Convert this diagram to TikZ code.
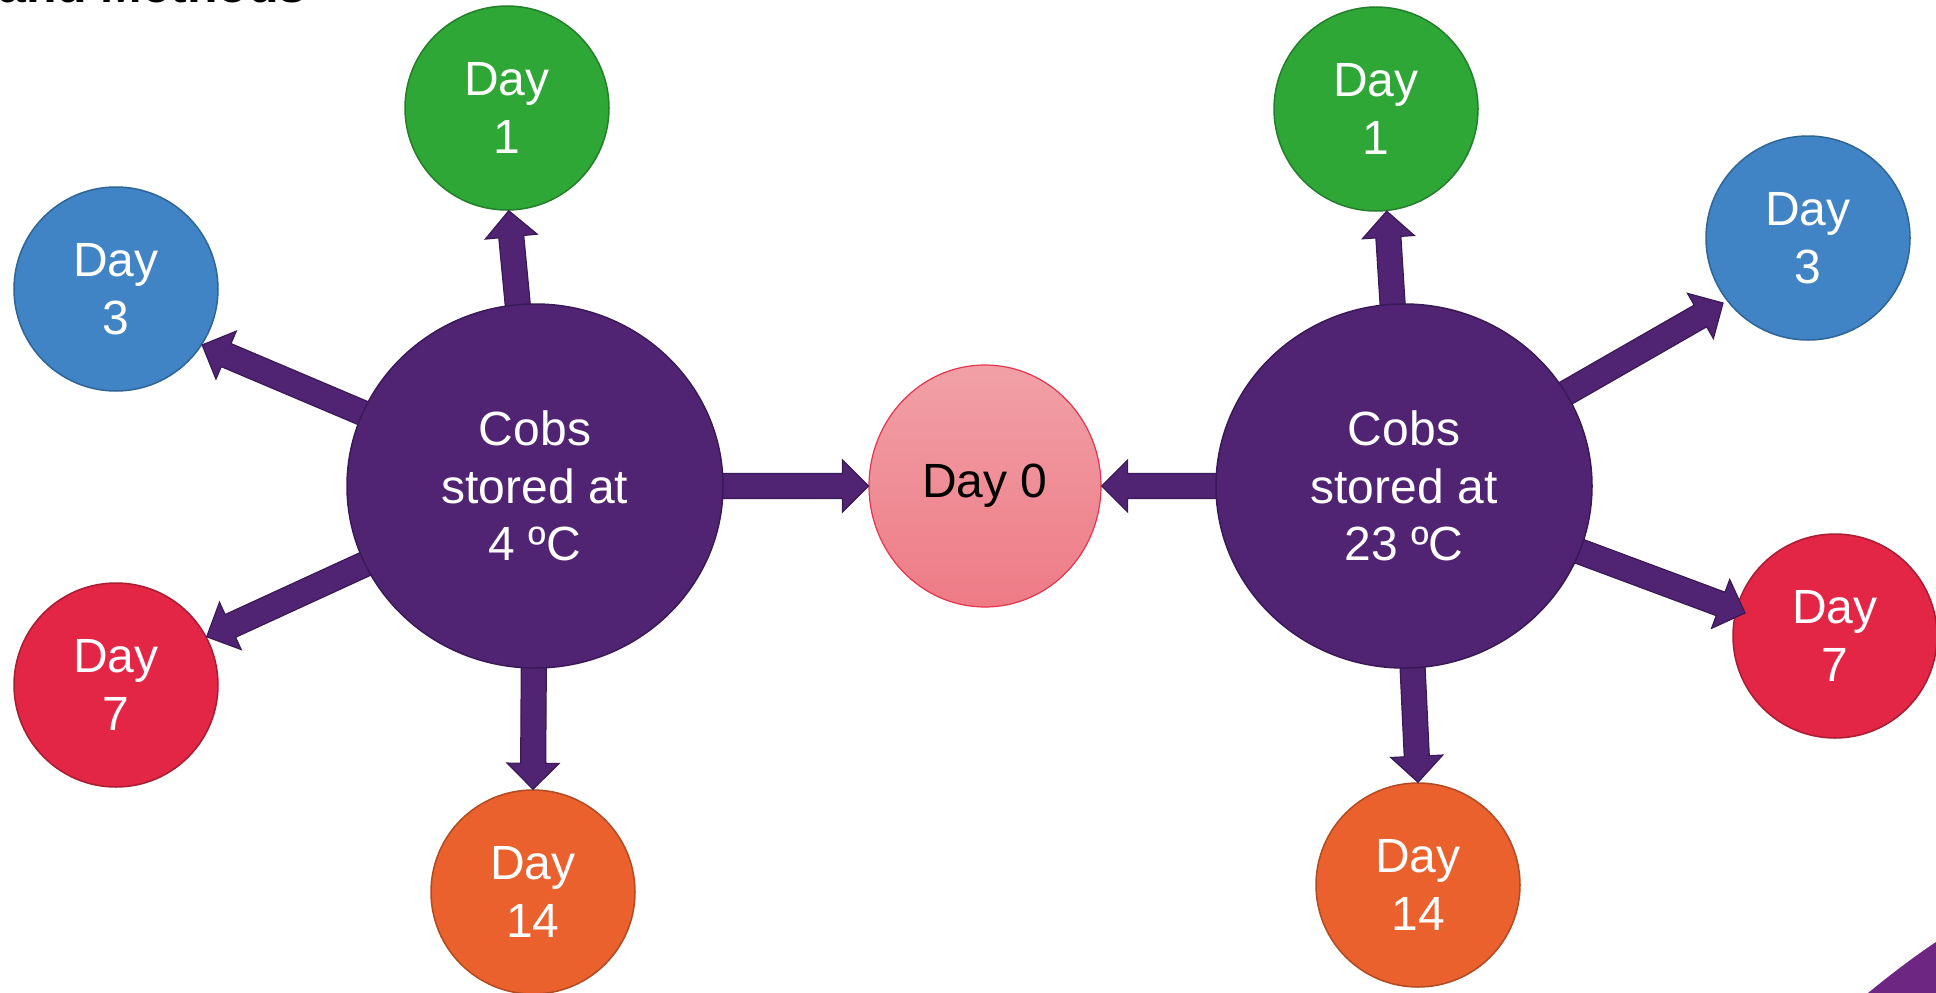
\documentclass[tikz,border=0pt]{standalone}
\usepackage{fontspec}
\setmainfont{Liberation Sans}
\usetikzlibrary{shapes.geometric,calc}
\definecolor{cgreen}{HTML}{2EA737}
\definecolor{cgreenD}{HTML}{237F2A}
\definecolor{cblue}{HTML}{4184C5}
\definecolor{cblueD}{HTML}{2F6497}
\definecolor{cred}{HTML}{E32645}
\definecolor{credD}{HTML}{A91D33}
\definecolor{corange}{HTML}{EA612E}
\definecolor{corangeD}{HTML}{B24A22}
\definecolor{cpurple}{HTML}{512373}
\definecolor{cpurpleD}{HTML}{3A1957}
\definecolor{cpinkT}{HTML}{F1A0A6}
\definecolor{cpinkB}{HTML}{EE7B86}
\definecolor{cpinkD}{HTML}{E5344E}
\definecolor{ccorner}{HTML}{6D2681}
\newcommand{\blockarrow}[2]{%
  \path ($(#2)!26pt!(#1)$) coordinate (bah);
  \filldraw[barrow] ($(#1)!12.5pt!90:(#2)$) -- ($(bah)!12.5pt!90:(#2)$) -- ($(bah)!26pt!90:(#2)$) -- (#2) -- ($(bah)!26pt!-90:(#2)$) -- ($(bah)!12.5pt!-90:(#2)$) -- ($(#1)!12.5pt!-90:(#2)$) -- cycle;}
\begin{document}
\begin{tikzpicture}[x=1pt,y=-1pt,
  lbl/.style={align=center, font=\fontsize{48}{57.6}\selectfont},
  smallc/.style={lbl, circle, minimum size=204pt, inner sep=0pt, line width=1.5pt, text=white},
  daygreen/.style={smallc, fill=cgreen, draw=cgreenD},
  dayblue/.style={smallc, fill=cblue, draw=cblueD},
  dayred/.style={smallc, fill=cred, draw=credD},
  dayorange/.style={smallc, fill=corange, draw=corangeD},
  bigc/.style={lbl, ellipse, minimum width=376pt, minimum height=364pt, inner sep=0pt, line width=1.5pt, fill=cpurple, draw=cpurpleD, text=white},
  dayzero/.style={lbl, ellipse, minimum width=232pt, minimum height=242pt, inner sep=0pt, line width=1.2pt, top color=cpinkT, bottom color=cpinkB, draw=cpinkD, text=black},
  barrow/.style={fill=cpurple, draw=cpurpleD, line width=1.2pt, line join=miter}]
\useasboundingbox (0,0) rectangle (1936,993);
\clip (0,0) rectangle (1936,993);
% partial title
\node[anchor=base west, inner sep=0pt, font=\bfseries\fontsize{50}{60}\selectfont] (title) at (-2,2.5) {and Methods};
% corner decoration
\fill[ccorner] (1868,993) .. controls (1890,975) and (1912,958) .. (1936,942) -- (1936,993) -- cycle;
% small circles
\node[daygreen] (l1) at (507,108) {Day\\1};
\node[dayblue] (l3) at (116,289) {Day\\3};
\node[dayred] (l7) at (116,685) {Day\\7};
\node[dayorange] (l14) at (533,892) {Day\\14};
\node[daygreen] (r1) at (1376,109) {Day\\1};
\node[dayblue] (r3) at (1808,238) {Day\\3};
\node[dayred] (r7) at (1835,636) {Day\\7};
\node[dayorange] (r14) at (1418,885) {Day\\14};
\node[dayzero] (d0) at (985,486) {Day 0};
% arrow tips
\coordinate (bigL) at (535,486);
\coordinate (bigR) at (1404,486);
\coordinate (tl1) at (l1.-89);
\coordinate (tl3) at (l3.-33);
\coordinate (tl7) at (l7.28);
\coordinate (tl14) at (l14.north);
\coordinate (tr1) at (r1.-84);
\coordinate (tr3) at (1723,303);
\coordinate (tr7) at (1745,613);
\coordinate (tr14) at (r14.north);
% arrows
\blockarrow{bigL}{tl1}
\blockarrow{bigL}{tl3}
\blockarrow{bigL}{tl7}
\blockarrow{bigL}{tl14}
\blockarrow{bigL}{d0.west}
\blockarrow{bigR}{tr1}
\blockarrow{bigR}{tr3}
\blockarrow{bigR}{tr7}
\blockarrow{bigR}{tr14}
\blockarrow{bigR}{d0.east}
% big ellipses
\node[bigc] (L) at (bigL) {Cobs\\stored at\\4 ºC};
\node[bigc] (R) at (bigR) {Cobs\\stored at\\23 ºC};
\end{tikzpicture}
\end{document}
